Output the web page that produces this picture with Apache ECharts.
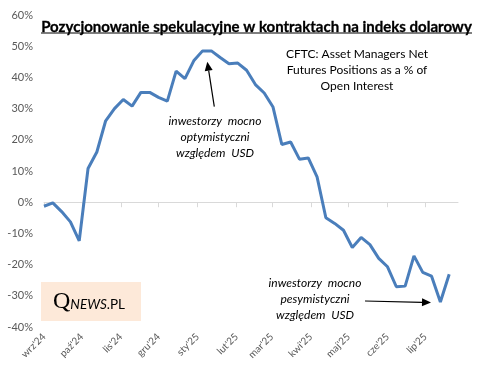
<!DOCTYPE html>
<html><head><meta charset="utf-8">
<script src="https://cdn.jsdelivr.net/npm/echarts@6/dist/echarts.min.js"></script>
<style>html,body{margin:0;padding:0;background:#fff}#c{width:496px;height:372px}</style>
</head><body><div id="c"></div>
<script>
// weekly CFTC report dates (Tuesdays)
const dates = [
 '2024-09-03','2024-09-10','2024-09-17','2024-09-24',
 '2024-10-01','2024-10-08','2024-10-15','2024-10-22','2024-10-29',
 '2024-11-05','2024-11-12','2024-11-19','2024-11-26',
 '2024-12-03','2024-12-10','2024-12-17','2024-12-24','2024-12-31',
 '2025-01-07','2025-01-14','2025-01-21','2025-01-28',
 '2025-02-04','2025-02-11','2025-02-18','2025-02-25',
 '2025-03-04','2025-03-11','2025-03-18','2025-03-25',
 '2025-04-01','2025-04-08','2025-04-15','2025-04-22','2025-04-29',
 '2025-05-06','2025-05-13','2025-05-20','2025-05-27',
 '2025-06-03','2025-06-10','2025-06-17','2025-06-24',
 '2025-07-01','2025-07-08','2025-07-15','2025-07-22'
];
// Asset managers net futures positions, % of open interest
const values = [
 -1.3, -0.2, -3.0, -6.3,
 -12.4, 10.8, 16.1, 26.1, 30.0,
 32.9, 30.8, 35.2, 35.2,
 33.6, 32.4, 42.0, 39.6, 45.3,
 48.5, 48.5, 46.4, 44.4,
 44.6, 42.3, 37.7, 35.0,
 30.5, 18.5, 19.3, 13.8,
 14.2, 8.1, -5.0, -6.8, -9.0,
 -14.5, -11.3, -13.6, -18.0,
 -20.7, -27.1, -26.9, -17.2,
 -22.5, -23.7, -32.0, -23.1
];
const axisStart = '2024-09-03';
const axisEnd = '2025-07-29';
const tickDates = ['2024-09-03','2024-10-03','2024-11-03','2024-12-03','2025-01-03','2025-02-03',
 '2025-03-03','2025-04-03','2025-05-03','2025-06-03','2025-07-03'];
const tickLabels = ["wrz'24","paź'24","lis'24","gru'24","sty'25","lut'25","mar'25","kwi'25","maj'25","cze'25","lip'25"];
const yMin = -40, yMax = 60, yStep = 10;

const titleText = 'Pozycjonowanie spekulacyjne w kontraktach na indeks dolarowy';
const noteText = 'CFTC: Asset Managers Net\nFutures Positions as a % of\nOpen Interest';
const note1 = 'inwestorzy  mocno\noptymistyczni\nwzględem  USD';
const note2 = 'inwestorzy  mocno\npesymistyczni\nwzględem  USD';

const FONT = 'Lato';
const t = s => +new Date(s + 'T00:00:00');
const tickTimes = tickDates.map(t);
const labelOf = v => { const i = tickTimes.findIndex(x => Math.abs(x - v) < 1000); return i >= 0 ? tickLabels[i] : ''; };

function measure(text, font){ const c = document.createElement('canvas').getContext('2d'); c.font = font; return c.measureText(text).width; }
const titleW0 = measure(titleText, 'bold 15px ' + FONT);
const titleSize = 15 * 431 / titleW0;
const titleW = 431;
const titleX = 256.5;

function arrow(x1, y1, x2, y2){
  const a = Math.atan2(y2 - y1, x2 - x1), L = 9, W = 4;
  const bx = x2 - L * Math.cos(a), by = y2 - L * Math.sin(a);
  const px = -Math.sin(a) * W, py = Math.cos(a) * W;
  return [
    {type:'line', shape:{x1:x1, y1:y1, x2:bx, y2:by}, style:{stroke:'#000', lineWidth:1.2}},
    {type:'polygon', shape:{points:[[x2,y2],[bx+px,by+py],[bx-px,by-py]]}, style:{fill:'#000'}}
  ];
}

const chart = echarts.init(document.getElementById('c'), null, {renderer:'canvas'});
const xCommon = {type:'value', min:t(axisStart), max:t(axisEnd), splitLine:{show:false}};
chart.setOption({
  animation:false,
  backgroundColor:'#fff',
  grid:{left:44, right:38, top:15, bottom:45},
  xAxis:[
    Object.assign({}, xCommon, {
      position:'bottom',
      axisLine:{show:true, onZero:true, lineStyle:{color:'#d9d9d9', width:1}},
      axisTick:{show:true, length:5, lineStyle:{color:'#d9d9d9'}, customValues:tickTimes},
      axisLabel:{show:false}
    }),
    Object.assign({}, xCommon, {
      position:'bottom', offset:0,
      axisLine:{show:false, onZero:false},
      axisTick:{show:false},
      axisLabel:{show:true, rotate:45, margin:8, fontFamily:FONT, fontSize:10, color:'#595959',
        customValues:tickTimes, formatter:labelOf, showMinLabel:true, showMaxLabel:true}
    })
  ],
  yAxis:{type:'value', min:yMin, max:yMax, interval:yStep,
    axisLine:{show:false}, axisTick:{show:false}, splitLine:{show:false},
    axisLabel:{formatter:'{value}%', fontFamily:FONT, fontSize:11, color:'#595959', margin:11}},
  series:[{type:'line', xAxisIndex:0, data:dates.map((d,i)=>[t(d), values[i]]),
    showSymbol:false, symbol:'none', lineStyle:{color:'#4a7ebb', width:3}, itemStyle:{color:'#4a7ebb'}}],
  graphic:[
    {type:'text', x:titleX, y:27, style:{text:titleText, font:'bold '+titleSize.toFixed(2)+'px '+FONT, fill:'#000', stroke:'#000', lineWidth:0.3, align:'center', verticalAlign:'middle'}},
    {type:'line', shape:{x1:titleX-titleW/2, y1:33, x2:titleX+titleW/2, y2:33}, style:{stroke:'#000', lineWidth:1}},
    {type:'text', x:357, y:70, style:{text:noteText, font:'12px '+FONT, lineHeight:16, fill:'#000', align:'center', verticalAlign:'middle'}},
    {type:'text', x:215, y:137, style:{text:note1, font:'italic 12px '+FONT, lineHeight:16, fill:'#000', align:'center', verticalAlign:'middle'}},
    {type:'text', x:315, y:299, style:{text:note2, font:'italic 12px '+FONT, lineHeight:16, fill:'#000', align:'center', verticalAlign:'middle'}},
    ...arrow(214.3, 106.7, 207.3, 61.7),
    ...arrow(365, 301, 431, 302.5),
    {type:'rect', shape:{x:41, y:282, width:100, height:39}, style:{fill:'#fde9d9'}},
    {type:'text', x:53, y:302, style:{
      text:'{q|Q}{n|NEWS}{p|.PL}', verticalAlign:'middle', align:'left',
      rich:{
        q:{fontFamily:'Liberation Serif', fontSize:24, fill:'#000', verticalAlign:'bottom'},
        n:{fontFamily:FONT, fontStyle:'italic', fontSize:13.5, fill:'#000', verticalAlign:'bottom', padding:[0,0,2,0]},
        p:{fontFamily:FONT, fontSize:13.5, fill:'#000', verticalAlign:'bottom', padding:[0,0,2,0]}
      }}}
  ]
});
</script></body></html>
